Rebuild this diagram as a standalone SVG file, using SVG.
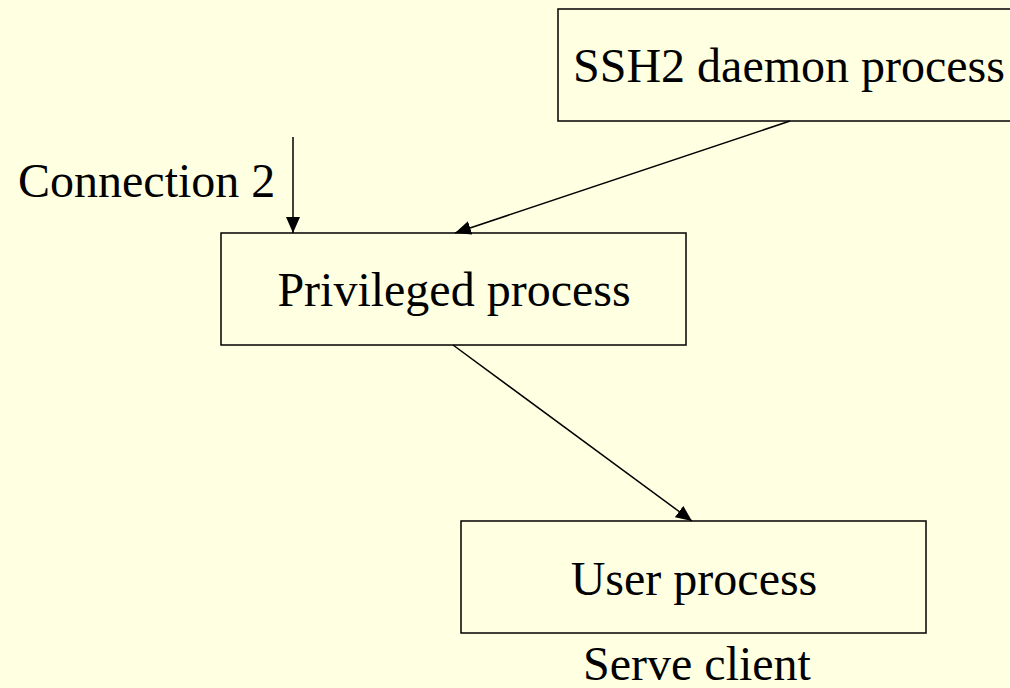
<svg xmlns="http://www.w3.org/2000/svg" width="1010" height="688" viewBox="0 0 1010 688">
  <defs>
    <marker id="arrow" markerUnits="userSpaceOnUse" markerWidth="16" markerHeight="14" refX="16" refY="7" orient="auto">
      <path d="M0,0 L16,7 L0,14 Z" fill="#000"/>
    </marker>
  </defs>
  <style>
    .box { fill: #FFFFE1; stroke: #000; stroke-width: 1.5; }
    .lbl { font-family: "Liberation Serif", "Times New Roman", serif; font-size: 48px; fill: #000; }
    .conn { stroke: #000; stroke-width: 1.5; fill: none; marker-end: url(#arrow); }
  </style>
  <rect x="0" y="0" width="1010" height="688" fill="#FFFFE1"/>
  <g id="ssh2-daemon">
    <rect class="box" x="558" y="9" width="470" height="112"/>
    <text class="lbl" x="789" y="82" text-anchor="middle">SSH2 daemon process</text>
  </g>
  <g id="privileged">
    <rect class="box" x="221" y="233" width="465" height="112"/>
    <text class="lbl" x="454" y="306" text-anchor="middle">Privileged process</text>
  </g>
  <g id="user">
    <rect class="box" x="461" y="521" width="465" height="112"/>
    <text class="lbl" x="694" y="595" text-anchor="middle">User process</text>
  </g>
  <g id="connection-label">
    <text class="lbl" x="18" y="197">Connection 2</text>
  </g>
  <g id="serve-client-label">
    <text class="lbl" x="697" y="680" text-anchor="middle">Serve client</text>
  </g>
  <g id="connectors">
    <line class="conn" x1="293" y1="137" x2="293" y2="233"/>
    <line class="conn" x1="790" y1="121" x2="455" y2="233"/>
    <line class="conn" x1="453" y1="345" x2="692" y2="521"/>
  </g>
</svg>
